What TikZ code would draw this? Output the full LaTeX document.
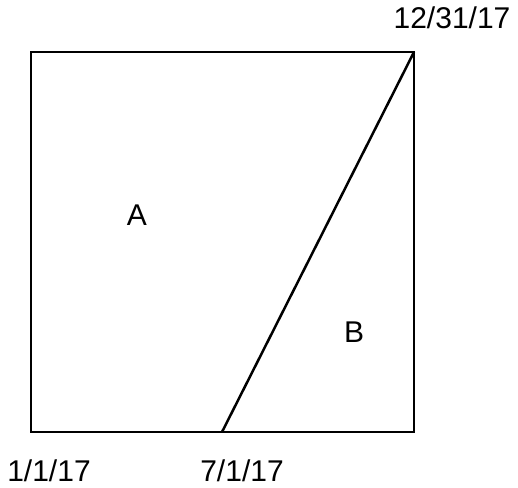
\documentclass[tikz,border=0pt]{standalone}
\usepackage{fontspec}
\setmainfont{Liberation Sans}
\begin{document}
\begin{tikzpicture}[x=1pt,y=-1pt,
  lbl/.style={font=\fontsize{30}{34}\selectfont, inner sep=0pt, anchor=base},
  edge/.style={line width=2.5pt, line cap=butt}]
\useasboundingbox (0,0) rectangle (518,487);
\coordinate (bl) at (31,432);
\coordinate (tr) at (414,52);
\coordinate (mid) at (222,432);
\draw[edge] (bl) rectangle (tr);
\draw[edge] (mid) -- (tr);
\node[lbl] (tlab) at (452,29) {12/31/17};
\node[lbl] (l1) at (49,481) {1/1/17};
\node[lbl] (l2) at (242,481) {7/1/17};
\node[lbl, anchor=center] (A) at (137,215) {A};
\node[lbl, anchor=center] (B) at (354,332) {B};
\end{tikzpicture}
\end{document}
